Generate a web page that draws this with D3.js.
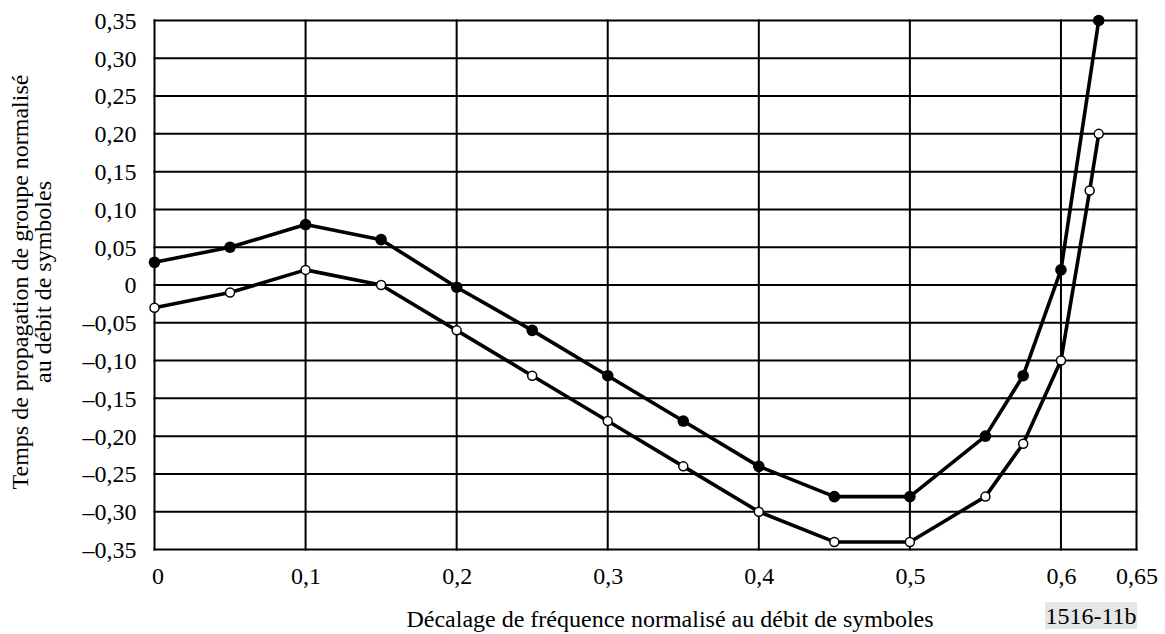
<!DOCTYPE html>
<html><head><meta charset="utf-8">
<script src="https://cdn.jsdelivr.net/npm/d3@7"></script>
<style>body{margin:0;background:#fff}svg{display:block}text{font-family:"Liberation Serif","Times New Roman",Times,serif;fill:#000}</style>
</head><body><svg id="c" width="1165" height="634"></svg>
<script>
const xValsFilled = [0, 0.05, 0.1, 0.15, 0.2, 0.25, 0.3, 0.35, 0.4, 0.45, 0.5, 0.55, 0.575, 0.6, 0.625];
const yValsFilled = [0.03, 0.05, 0.08, 0.06, -0.003, -0.06, -0.12, -0.18, -0.24, -0.28, -0.28, -0.20, -0.12, 0.02, 0.35];
const xValsOpen = [0, 0.05, 0.1, 0.15, 0.2, 0.25, 0.3, 0.35, 0.4, 0.45, 0.5, 0.55, 0.575, 0.6, 0.619, 0.625];
const yValsOpen = [-0.03, -0.01, 0.02, 0, -0.06, -0.12, -0.18, -0.24, -0.30, -0.34, -0.34, -0.28, -0.21, -0.10, 0.125, 0.20];
const xTicks = [0, 0.1, 0.2, 0.3, 0.4, 0.5, 0.6, 0.65];
const xTickLabels = ["0", "0,1", "0,2", "0,3", "0,4", "0,5", "0,6", "0,65"];
const yTicks = [0.35, 0.30, 0.25, 0.20, 0.15, 0.10, 0.05, 0, -0.05, -0.10, -0.15, -0.20, -0.25, -0.30, -0.35];
const yTickLabels = ["0,35","0,30","0,25","0,20","0,15","0,10","0,05","0","–0,05","–0,10","–0,15","–0,20","–0,25","–0,30","–0,35"];
const xTitle = "Décalage de fréquence normalisé au débit de symboles";
const yTitle = ["Temps de propagation de groupe normalisé", "au débit de symboles"];
const figId = "1516-11b";

const FONT = '"Liberation Serif","Times New Roman",Times,serif';
const svg = d3.select("#c");
const L = 154.5, R = 1136.5, T = 20.5, B = 549.5;
const x = d3.scaleLinear().domain([0, 0.65]).range([L, R]);
const y = d3.scaleLinear().domain([-0.35, 0.35]).range([B, T]);

// grid
const g = svg.append("g");
g.selectAll(".hg").data(yTicks).enter().append("line")
  .attr("x1", L - 1).attr("x2", R + 1).attr("y1", d => y(d)).attr("y2", d => y(d))
  .attr("stroke", "#000").attr("stroke-width", 2);
g.selectAll(".vg").data(xTicks).enter().append("line")
  .attr("y1", T - 1).attr("y2", B + 1).attr("x1", d => x(d)).attr("x2", d => x(d))
  .attr("stroke", "#000").attr("stroke-width", 2);

// axes labels
const xAxis = d3.axisBottom(x).tickValues(xTicks).tickSize(0).tickPadding(0)
  .tickFormat((d, i) => xTickLabels[i]);
const xa = svg.append("g").attr("transform", `translate(0,${B})`).call(xAxis)
  .attr("font-family", FONT).attr("font-size", 24);
xa.select(".domain").remove();
xa.selectAll("text").attr("dy", null).attr("y", 34.5).attr("fill", "#000")
  .attr("font-family", FONT).attr("font-size", 24);
xa.selectAll("text").filter((d, i) => i === 0).attr("dx", 3);

const yAxis = d3.axisLeft(y).tickValues(yTicks).tickSize(0).tickPadding(18)
  .tickFormat((d, i) => yTickLabels[i]);
const ya = svg.append("g").attr("transform", `translate(${L},0)`).call(yAxis)
  .attr("font-family", FONT).attr("font-size", 24);
ya.select(".domain").remove();
ya.selectAll("text").attr("dy", "0.33em").attr("fill", "#000")
  .attr("font-family", FONT).attr("font-size", 24);

// lines
const line = d3.line().x(d => x(d[0])).y(d => y(d[1]));
const filled = xValsFilled.map((v, i) => [v, yValsFilled[i]]);
const open = xValsOpen.map((v, i) => [v, yValsOpen[i]]);
svg.append("path").datum(filled).attr("d", line).attr("fill", "none").attr("stroke", "#000")
  .attr("stroke-width", 3.6).attr("stroke-linejoin", "round");
svg.append("path").datum(open).attr("d", line).attr("fill", "none").attr("stroke", "#000")
  .attr("stroke-width", 3.6).attr("stroke-linejoin", "round");
svg.selectAll(".mf").data(filled).enter().append("circle")
  .attr("cx", d => x(d[0])).attr("cy", d => y(d[1])).attr("r", 5.8).attr("fill", "#000");
svg.selectAll(".mo").data(open).enter().append("circle")
  .attr("cx", d => x(d[0])).attr("cy", d => y(d[1])).attr("r", 4.5)
  .attr("fill", "#fff").attr("stroke", "#000").attr("stroke-width", 1.5);

// titles
svg.append("text").attr("x", 670).attr("y", 627).attr("text-anchor", "middle")
  .attr("font-family", FONT).attr("font-size", 24).text(xTitle);
const yt = svg.append("text").attr("transform", "translate(28,282) rotate(-90)")
  .attr("text-anchor", "middle").attr("font-family", FONT).attr("font-size", 24);
yt.append("tspan").attr("x", 0).attr("y", 0).text(yTitle[0]);
yt.append("tspan").attr("x", 0).attr("y", 23).text(yTitle[1]);

// figure id
const idg = svg.append("g");
idg.append("rect").attr("x", 1045).attr("y", 602).attr("width", 92).attr("height", 27).attr("fill", "#e6e6e6");
idg.append("text").attr("x", 1091).attr("y", 624).attr("text-anchor", "middle")
  .attr("font-family", FONT).attr("font-size", 24).text(figId);
</script></body></html>
